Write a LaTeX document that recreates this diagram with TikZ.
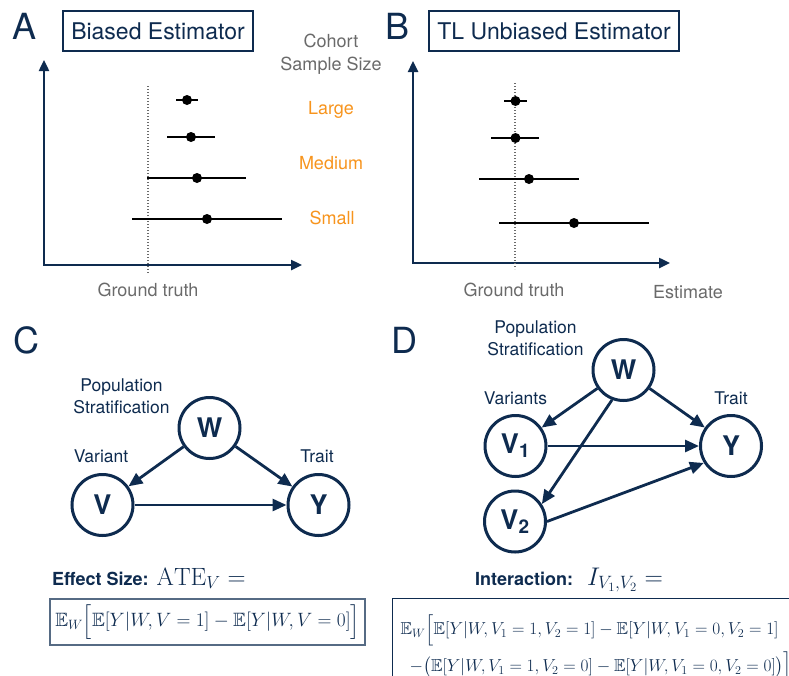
\RequirePackage{fix-cm}
\documentclass[tikz,border=0pt]{standalone}
\usepackage{amsmath,amssymb}
\usepackage{fontspec}
\setsansfont{TeX Gyre Heros}
\usetikzlibrary{arrows.meta,positioning}
\definecolor{navy}{HTML}{0E2B4F}
\definecolor{cohort}{HTML}{F7941D}
\definecolor{muted}{HTML}{6A6A6A}

\begin{document}
\begin{tikzpicture}[x=1pt, y=-1pt, font=\sffamily,
    var/.style = {circle, draw=navy, line width=3pt,
        minimum size=61pt, inner sep=0pt, text=navy,
        font=\sffamily\bfseries\fontsize{27}{30}\selectfont},
    causal/.style = {draw=navy, line width=2.8pt,
        -{Triangle[length=14pt,width=12pt]}},
    axis/.style = {draw=navy, line width=2.4pt,
        {Triangle[length=11pt,width=10pt]}-{Triangle[length=11pt,width=10pt]}},
    truth/.style = {draw=muted, line width=1.3pt, dash pattern=on 1.4pt off 1.6pt},
    bar/.style = {line width=2.4pt},
    title/.style = {draw=navy, line width=1.8pt, text=navy, inner sep=0pt,
        minimum height=40pt, font=\sffamily\fontsize{23}{26}\selectfont},
    panel/.style = {text=navy, inner sep=0pt, font=\sffamily\fontsize{36}{40}\selectfont},
    note/.style = {text=navy, align=center, inner sep=0pt,
        font=\sffamily\fontsize{17.5}{22}\selectfont},
    gray label/.style = {text=muted, align=center, inner sep=0pt,
        font=\sffamily\fontsize{18}{23}\selectfont},
    size label/.style = {text=cohort, inner sep=0pt,
        font=\sffamily\fontsize{18}{22}\selectfont}]

    \useasboundingbox (0,0) rectangle (789,675);
    \clip (0,0) rectangle (789,675);

    % Panel A: biased estimator
    \node[panel] (lblA) at (25,26) {A};
    \node[title, minimum width=190pt] (titleA) at (158,31) {Biased Estimator};
    \draw[axis] (44,60) -- (44,265) -- (302,265);
    \draw[truth] (148,86) -- (148,273);
    \foreach \y/\est/\lo/\hi in {100/187/176/198, 137/191/167/215,
                                 178/197/147/246, 219/207/132/282} {
        \draw[bar] (\lo,\y) -- (\hi,\y);
        \fill (\est,\y) circle (5pt);
    }
    \node[gray label] (cohort) at (331,54) {Cohort\\Sample Size};
    \node[size label] (large) at (331,110) {Large};
    \node[size label] (medium) at (331,163) {Medium};
    \node[size label] (small) at (332,218) {Small};
    \node[gray label] (truthA) at (148,290) {Ground truth};

    % Panel B: TL unbiased estimator
    \node[panel] (lblB) at (397.5,26.5) {B};
    \node[title, minimum width=250pt] (titleB) at (554,31) {TL Unbiased Estimator};
    \draw[axis] (413,61) -- (413,263) -- (670,263);
    \draw[truth] (515,83) -- (515,269);
    \foreach \y/\est/\lo/\hi in {101/515.5/504/527, 138/515.5/491/539,
                                 179/529/479/579, 223/574/499/649} {
        \draw[bar] (\lo,\y) -- (\hi,\y);
        \fill (\est,\y) circle (5pt);
    }
    \node[gray label] (truthB) at (514,290) {Ground truth};
    \node[gray label] (estimate) at (688,292) {Estimate};

    % Panel C: single variant
    \node[panel] (lblC) at (26.5,340) {C};
    \node[var] (W) at (209.5,428) {W};
    \node[var] (V) at (102.5,505) {V};
    \node[var] (Y) at (318.5,505) {Y};
    \draw[causal] (W) -- (V);
    \draw[causal] (W) -- (Y);
    \draw[causal] (V) -- (Y);
    \node[note] (popC) at (121.5,396) {Population\\Stratification};
    \node[note] (varC) at (101,456) {Variant};
    \node[note] (traitC) at (317,456) {Trait};

    \node[anchor=base west, inner sep=0pt, text=navy] (effect) at (52,585)
        {\bfseries\fontsize{18}{20}\selectfont Effect Size:\hspace{8pt}%
         \fontsize{25}{28}\selectfont$\mathrm{ATE}_V =$};
    \node[draw=navy!70, line width=1.3pt, minimum width=315pt, minimum height=46pt,
          inner sep=0pt, text=navy, font=\fontsize{19.3}{22}\selectfont] (ateC) at (207.5,622)
        {$\mathbb{E}_W\Big[\mathbb{E}[Y|W,V=1]-\mathbb{E}[Y|W,V=0]\Big]$};

    % Panel D: two interacting variants
    \node[panel] (lblD) at (404.5,340) {D};
    \node[var] (Wd) at (623.5,370) {W};
    \node[var] (V1) at (515.5,446) {V\textsubscript{1}};
    \node[var] (V2) at (515,521.5) {V\textsubscript{2}};
    \node[var] (Yd) at (731,446) {Y};
    \draw[causal] (Wd) -- (V1);
    \draw[causal] (Wd) -- (Yd);
    \draw[causal] (Wd.-111) -- (V2.33);
    \draw[causal] (V1) -- (Yd);
    \draw[causal] (V2.east) -- (Yd.-148);
    \node[note] (popD) at (535.5,338) {Population\\Stratification};
    \node[note] (varD) at (515.5,398) {Variants};
    \node[note] (traitD) at (731,398) {Trait};

    \node[anchor=base west, inner sep=0pt, text=navy] (inter) at (475,585)
        {\bfseries\fontsize{18}{20}\selectfont Interaction:\hspace{14pt}%
         \fontsize{25.5}{28}\selectfont$I_{V_1,V_2} =$};
    \node[draw=navy, line width=1.3pt, anchor=north west, align=left,
          inner xsep=8pt, inner ysep=1pt, minimum height=100pt, text=navy,
          font=\fontsize{17.3}{35}\selectfont] (interD) at (392,598)
        {$\mathbb{E}_W\Big[\mathbb{E}[Y|W,V_1=1,V_2=1]-\mathbb{E}[Y|W,V_1=0,V_2=1]$\\[2pt]
         \hspace*{9pt}$-\big(\mathbb{E}[Y|W,V_1=1,V_2=0]-\mathbb{E}[Y|W,V_1=0,V_2=0]\big)\Big]$};
\end{tikzpicture}
\end{document}
